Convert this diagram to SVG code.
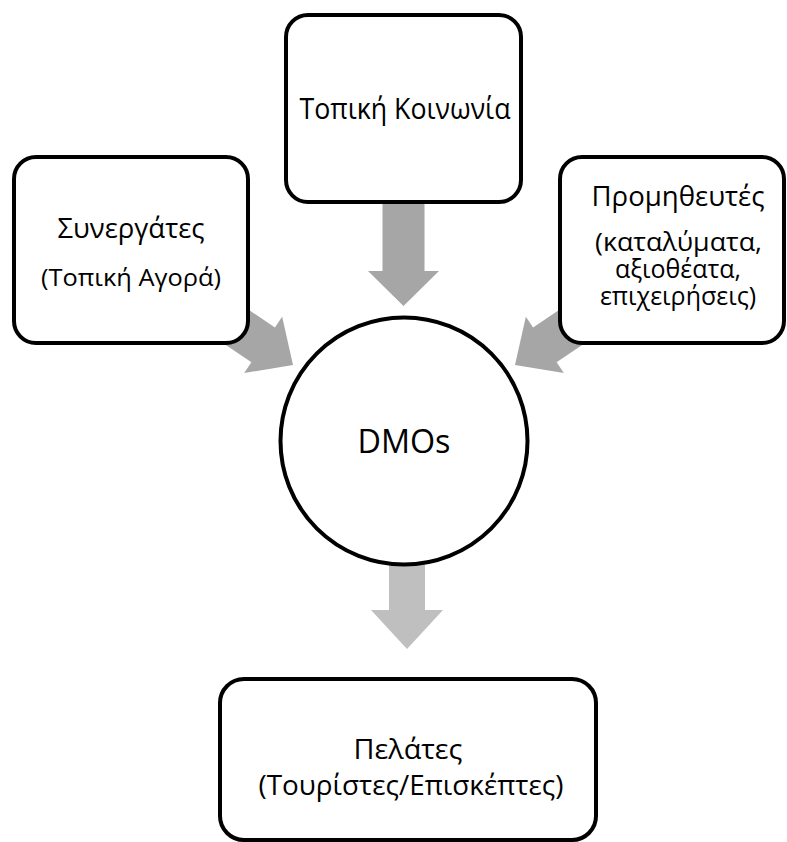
<svg xmlns="http://www.w3.org/2000/svg" width="787" height="842" viewBox="0 0 787 842">
  <style>
    .box { fill: #ffffff; stroke: #000000; stroke-width: 4; }
    .t { font-family: "Open Sans", "Noto Sans", sans-serif; fill: #000000; text-anchor: middle; }
    .arr { fill: #a6a6a6; }
    .arr2 { fill: #bfbfbf; }
  </style>
  <rect width="787" height="842" fill="#ffffff"/>
  <g id="connectors">
    <polygon class="arr" transform="translate(403.5,306) rotate(90)" points="-105,-21 -35,-21 -35,-35.5 0,0 -35,35.5 -35,21 -105,21"/>
    <polygon class="arr" transform="translate(293,365) rotate(34)" points="-95,-21 -36,-21 -36,-34 0,0 -36,34 -36,21 -95,21"/>
    <polygon class="arr" transform="translate(515,365) rotate(146)" points="-95,-21 -36,-21 -36,-34 0,0 -36,34 -36,21 -95,21"/>
    <polygon class="arr2" transform="translate(407,649) rotate(90)" points="-95,-18 -39,-18 -39,-36 0,0 -39,36 -39,18 -95,18"/>
  </g>
  <g id="node-topiki-koinonia">
    <rect class="box" x="286" y="15" width="235" height="187" rx="22"/>
    <text class="t" x="405" y="119" font-size="30" textLength="211" lengthAdjust="spacingAndGlyphs">Τοπική Κοινωνία</text>
  </g>
  <g id="node-synergates">
    <rect class="box" x="14" y="157" width="234" height="186" rx="22"/>
    <text class="t" x="131" y="238" font-size="27.5" textLength="147" lengthAdjust="spacingAndGlyphs">Συνεργάτες</text>
    <text class="t" x="131" y="286" font-size="24.5" textLength="180" lengthAdjust="spacingAndGlyphs">(Τοπική Αγορά)</text>
  </g>
  <g id="node-promitheutes">
    <rect class="box" x="560" y="157" width="224" height="186" rx="22"/>
    <text class="t" x="678" y="206" font-size="27" textLength="173" lengthAdjust="spacingAndGlyphs">Προμηθευτές</text>
    <text class="t" x="678.5" y="251" font-size="25" textLength="167" lengthAdjust="spacingAndGlyphs">(καταλύματα,</text>
    <text class="t" x="678" y="278" font-size="25">αξιοθέατα,</text>
    <text class="t" x="678" y="305" font-size="25">επιχειρήσεις)</text>
  </g>
  <g id="node-dmos">
    <circle class="box" cx="404" cy="441" r="123.5"/>
    <text class="t" x="404" y="453" font-size="32" textLength="93" lengthAdjust="spacingAndGlyphs">DMOs</text>
  </g>
  <g id="node-pelates">
    <rect class="box" x="220" y="679" width="376" height="161" rx="24"/>
    <text class="t" x="408" y="759" font-size="27.5" textLength="109" lengthAdjust="spacingAndGlyphs">Πελάτες</text>
    <text class="t" x="411" y="795" font-size="27.5" textLength="305" lengthAdjust="spacingAndGlyphs">(Τουρίστες/Επισκέπτες)</text>
  </g>
</svg>
